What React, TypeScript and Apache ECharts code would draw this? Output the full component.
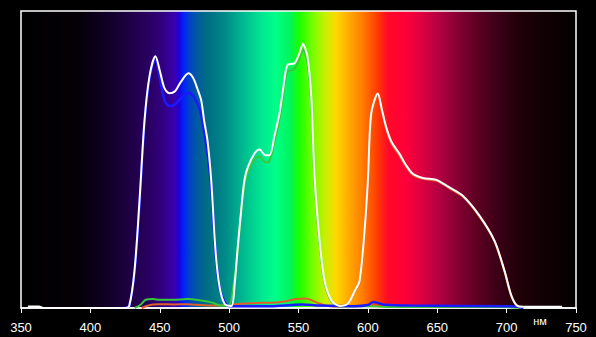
import React, { useEffect, useRef } from "react";
import * as echarts from "echarts";

// Wavelength ticks (nm)
const xTicks = [350, 400, 450, 500, 550, 600, 650, 700, 750];
const unitLabel = "нм";

// [wavelength nm, relative intensity]
const whiteSeries: [number, number][] = [
  [355, 0.5], [363, 0.5], [366, 0], [425, 0], [428, 0.7], [431.8, 12.5], [435.4, 36], [439, 63],
  [442.6, 78], [446.9, 84.8], [450, 80], [453.4, 74], [457, 72.3], [461, 73], [465, 76],
  [470.7, 79], [474, 77.5], [477, 74], [479.9, 69.9], [482, 63], [484.4, 56.4], [487.1, 42.9],
  [490.2, 19.3], [493, 7.4], [496.7, 1.4], [501.7, 0.7], [504, 8], [506, 19.3], [508.5, 32],
  [511, 42.9], [513.5, 47.4], [518.3, 52], [521.9, 53.4], [526.2, 51.4], [529.1, 51.4],
  [532.7, 58], [536.3, 65.5], [539, 74], [542, 81.8], [547.1, 82.4], [550.7, 85.8],
  [553.1, 88.9], [556.5, 84.5], [559.2, 71], [561.6, 43.9], [565.2, 22.6], [568.8, 9.1],
  [573.9, 2.4], [579.6, 0.7], [585.4, 1.4], [590.5, 5.7], [594, 9.1], [597.6, 26], [600, 42.9],
  [602.4, 65.5], [607.2, 72.2], [610, 67], [613.2, 60.9], [617, 56], [622.7, 52], [627, 48.5],
  [632.4, 45.2], [639.6, 43.8], [649.2, 43.2], [654, 42], [658.8, 40.6], [668.4, 37.8],
  [680.4, 31.1], [691.3, 22.6], [698.5, 12.5], [703.5, 4.1], [707.8, 0.7], [712, 0.4], [740, 0.4],
];

const blueSeries: [number, number][] = [
  [425, 0], [428, 0.7], [431.8, 12], [435.4, 35], [439, 62], [442.6, 77], [446.9, 84],
  [450, 77.5], [453.4, 70], [457, 68], [461, 68.5], [465, 70.5], [470.7, 72.5], [474, 71.5],
  [477, 69], [479.9, 65], [482, 59], [484.4, 52], [487.1, 40.5], [490.2, 18.5], [493, 7],
  [496.7, 2], [500, 0.7], [505, 0.6], [530, 0.6], [545, 1], [553, 1.2], [565, 0.8],
  [590, 0.6], [600, 1], [604, 2], [608, 1.6], [612, 1.1], [630, 0.8], [700, 0.6], [708, 0.4], [712, 0],
];

const greenSeries: [number, number][] = [
  [432, 0], [436, 1], [440, 2.8], [445, 3], [450, 2.8], [460, 2.8], [470, 3], [480, 2.5],
  [488, 1.8], [494, 0.8], [500, 1], [503, 7], [506, 18.5], [508.5, 31], [511, 41],
  [513.5, 45.5], [518.3, 50], [521.9, 51], [526.2, 49], [529.1, 49.5], [532.7, 56],
  [536.3, 63.5], [539, 72], [542, 79.5], [547.1, 80.5], [550.7, 84], [553.1, 87],
  [556.5, 82.5], [559.2, 69], [561.6, 42], [565.2, 21.5], [568.8, 8.5], [573.9, 2],
  [579.6, 0.5], [590, 0.5], [600, 0.6], [620, 0.3], [700, 0.3], [710, 0],
];

const redSeries: [number, number][] = [
  [437, 0], [440, 0.6], [445, 1.2], [450, 1.3], [460, 1.2], [470, 1.3], [480, 1], [490, 0.8],
  [500, 1], [510, 1.5], [520, 1.7], [530, 1.8], [540, 2.2], [548, 3], [555, 3.2], [560, 2.5],
  [565, 1.5], [570, 0.8], [575, 0.5], [580, 0.5], [585, 1.2], [590, 5.2], [594, 8.6],
  [597.6, 25.5], [600, 42.3], [602.4, 64.8], [607.2, 71.6], [610, 66.4], [613.2, 60.3],
  [617, 55.4], [622.7, 51.4], [627, 48], [632.4, 44.8], [639.6, 43.5], [649.2, 42.9],
  [654, 41.7], [658.8, 40.3], [668.4, 37.5], [680.4, 30.8], [691.3, 22.3], [698.5, 12.2],
  [703.5, 3.8], [707.8, 0.5], [712, 0],
];

// Spectrum background gradient stops
const spectrumOffsets = [
  0, 0.106, 0.16, 0.196, 0.232, 0.259, 0.277, 0.285, 0.292, 0.305, 0.319, 0.335, 0.368, 0.404,
  0.434, 0.459, 0.485, 0.501, 0.524, 0.548, 0.568, 0.587, 0.614, 0.64, 0.661, 0.692, 0.719,
  0.755, 0.791, 0.827, 0.863, 0.899, 0.944, 1,
];
const spectrumColors = [
  "#000000", "#050008", "#12002a", "#1f0045", "#2a0062", "#330088", "#3a00b0", "#2000d8",
  "#0020ff", "#0045c0", "#005c9c", "#006c84", "#008a88", "#00bf90", "#00e890", "#00ff88",
  "#00f55a", "#18ff00", "#70ff00", "#c8f000", "#ffd800", "#ffb000", "#ff8000", "#ff4000",
  "#ff0a28", "#ff0038", "#e00040", "#b00040", "#800030", "#580020", "#380015", "#200008",
  "#100004", "#040000",
];

export default function App() {
  const ref = useRef<HTMLDivElement>(null);
  useEffect(() => {
    if (!ref.current) return;
    const chart = echarts.init(ref.current, undefined, { renderer: "svg" });
    const gradient = new echarts.graphic.LinearGradient(
      0, 0, 1, 0,
      spectrumOffsets.map((o, i) => ({ offset: o, color: spectrumColors[i] }))
    );
    const line = (name: string, data: [number, number][], color: string, z: number, width: number) => ({
      name,
      type: "line",
      data,
      showSymbol: false,
      smooth: 0.3,
      z,
      lineStyle: { color, width },
    });
    chart.setOption({
      animation: false,
      backgroundColor: "#000000",
      grid: {
        left: 21,
        top: 11,
        width: 555,
        height: 297,
        show: true,
        backgroundColor: gradient,
        borderColor: "#ffffff",
        borderWidth: 1.5,
      },
      xAxis: {
        type: "value",
        min: 350,
        max: 750,
        interval: 50,
        splitLine: { show: false },
        axisLine: { show: true, lineStyle: { color: "#ffffff", width: 1.5 } },
        axisTick: { show: true, length: 5, lineStyle: { color: "#ffffff", width: 1 } },
        axisLabel: {
          color: "#ffffff",
          fontSize: 13,
          fontFamily: "Liberation Sans, Arial, sans-serif",
          margin: 13,
          showMaxLabel: true,
          showMinLabel: true,
          formatter: (v: number) => (xTicks.includes(v) ? String(v) : ""),
        },
      },
      yAxis: {
        type: "value",
        min: 0,
        max: 100,
        show: false,
      },
      graphic: [
        {
          type: "text",
          x: 540,
          y: 321,
          style: {
            text: unitLabel,
            fill: "#ffffff",
            fontSize: 11,
            fontFamily: "Liberation Sans, Arial, sans-serif",
            align: "center",
            verticalAlign: "middle",
          },
        },
      ],
      series: [
        line("red", redSeries, "#e0602a", 2, 2),
        line("green", greenSeries, "#38c838", 3, 2),
        line("blue", blueSeries, "#1a1aff", 4, 2.5),
        line("white", whiteSeries, "#ffffff", 5, 2),
      ],
    });
    return () => chart.dispose();
  }, []);
  return (
    <div
      style={{ position: "absolute", left: 0, top: 0, width: 596, height: 337, background: "#000" }}
    >
      <div ref={ref} style={{ width: 596, height: 337 }} />
    </div>
  );
}
